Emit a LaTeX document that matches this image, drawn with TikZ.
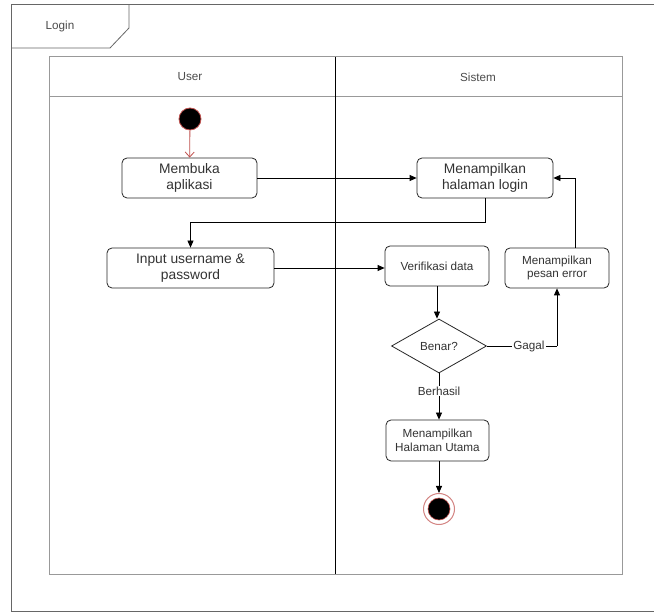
\documentclass[tikz,border=0pt]{standalone}
\usepackage{fontspec}
\setmainfont{Liberation Sans}
\usetikzlibrary{arrows.meta,shapes.geometric}
\definecolor{startred}{HTML}{C0504D}
\tikzset{
  x=1pt, y=-1pt,
  small/.style={font=\fontsize{11.7}{13.5}\selectfont, text=black!80},
  big/.style={font=\fontsize{13.8}{15.5}\selectfont, text=black!80},
  act/.style={draw=black!85, line width=0.8pt, rounded corners=5pt, align=center, inner sep=0pt},
  flow/.style={draw=black, line width=0.8pt, -{Triangle[length=7pt,width=6pt]}},
  lane/.style={draw=black!40, line width=1pt},
}
\begin{document}
\begin{tikzpicture}
\useasboundingbox[fill=white] (0,0) rectangle (654,612);
% outer frame with its name tab
\draw[draw=black!60, line width=1pt] (11,611) -- (11,5) -- (670,5);
\draw[draw=black!60, line width=1pt] (11,611) -- (670,611);
\draw[draw=black!60, line width=0.8pt] (129,5) -- (129,28) -- (110,48) -- (11,48);
\node[small, text=black!70] (title) at (60,26) {Login};
% swimlanes
\draw[lane] (49,57) rectangle (622,574);
\draw[lane] (49,97) -- (622,97);
\draw[draw=black, line width=1pt] (335,57) -- (335,574);
\node[small, text=black!70] (user) at (190,77) {User};
\node[small, text=black!70] (sistem) at (478,77) {Sistem};
% activities
\node[circle, fill=black, draw=startred, line width=0.8pt, minimum size=22pt, inner sep=0pt] (start) at (190,119) {};
\node[act, big, minimum width=135pt, minimum height=40pt] (buka) at (189.5,178) {Membuka\\aplikasi};
\node[act, big, minimum width=136pt, minimum height=40pt] (login) at (485,178) {Menampilkan\\halaman login};
\node[act, big, minimum width=167pt, minimum height=40pt] (input) at (190.5,268) {Input username \&\\password};
\node[act, small, minimum width=104pt, minimum height=40pt] (verif) at (437,266) {Verifikasi data};
\node[act, small, minimum width=104pt, minimum height=40pt] (error) at (557,268) {Menampilkan\\pesan error};
\node[diamond, draw=black!85, line width=0.8pt, small, minimum width=95pt, minimum height=54pt, inner sep=0pt, aspect=1.76] (benar) at (439,346) {Benar?};
\node[act, small, minimum width=103pt, minimum height=41pt] (utama) at (437.5,440.5) {Menampilkan\\Halaman Utama};
\node[circle, draw=startred!70, line width=1pt, fill=white, minimum size=31pt, inner sep=0pt] (stop) at (439,509) {};
\node[circle, fill=black, draw=startred, line width=0.6pt, minimum size=22pt, inner sep=0pt] (stopin) at (439,509) {};
% connectors
\draw[draw=startred, line width=0.8pt, -{Straight Barb[length=5pt,width=9pt]}] (start) -- (buka);
\draw[flow] (buka) -- (login);
\draw[flow] (login.south) -- (login.south |- 0,222) -- (input.north |- 0,222) -- (input.north);
\draw[flow] (input.east) -- (verif.west |- input.east);
\draw[flow] (verif) -- (benar.north -| verif);
\draw[flow] (error.north -| 575,0) -- (575,178) -- (login.east);
\draw[draw=black, line width=0.8pt] (benar.east) -- (557,346) node[pos=0.6, fill=white, small, inner sep=1pt] (gagal) {Gagal};
\draw[flow] (557,346) -- (error.south);
\draw[flow] (benar.south) -- (utama.north -| benar.south) node[pos=0.38, fill=white, small, inner sep=1pt] (berhasil) {Berhasil};
\draw[flow] (utama.south -| stop) -- (stop.north);
\end{tikzpicture}
\end{document}
